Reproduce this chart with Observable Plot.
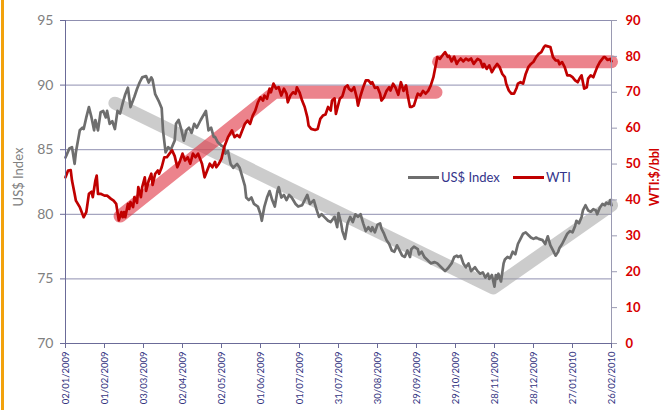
<!DOCTYPE html>
<html><head><meta charset="utf-8">
<script src="https://cdn.jsdelivr.net/npm/d3@7"></script>
<script src="https://cdn.jsdelivr.net/npm/@observablehq/plot@0.6"></script>
<style>
body{margin:0;background:#fff;}
#wrap{position:relative;width:664px;height:410px;overflow:hidden;font-family:Lato,"Open Sans",sans-serif;}
#wrap svg{position:absolute;left:0;top:0;}
.abs{position:absolute;white-space:nowrap;}
#bar{left:1px;top:0;width:3px;height:410px;background:#f2a20c;}
.sw{height:3px;width:31px;}
.lt{font-size:13px;color:#34348a;line-height:14px;}
.ylab{transform:translate(-50%,-50%) rotate(-90deg);line-height:14px;}
</style></head>
<body><div id="wrap">
<div class="abs" id="bar"></div>
</div>
<script>
const usdDates = ["2009-01-02","2009-01-05","2009-01-07","2009-01-09","2009-01-10","2009-01-13","2009-01-15","2009-01-16","2009-01-18","2009-01-20","2009-01-22","2009-01-24","2009-01-25","2009-01-27","2009-01-29","2009-01-31","2009-02-02","2009-02-03","2009-02-05","2009-02-07","2009-02-09","2009-02-11","2009-02-13","2009-02-15","2009-02-17","2009-02-19","2009-02-21","2009-02-24","2009-02-26","2009-02-28","2009-03-02","2009-03-05","2009-03-07","2009-03-09","2009-03-10","2009-03-12","2009-03-15","2009-03-17","2009-03-18","2009-03-20","2009-03-22","2009-03-24","2009-03-27","2009-03-28","2009-03-30","2009-04-01","2009-04-03","2009-04-05","2009-04-07","2009-04-09","2009-04-11","2009-04-13","2009-04-16","2009-04-20","2009-04-22","2009-04-24","2009-04-26","2009-04-27","2009-04-29","2009-05-02","2009-05-04","2009-05-05","2009-05-07","2009-05-09","2009-05-11","2009-05-14","2009-05-16","2009-05-20","2009-05-21","2009-05-23","2009-05-25","2009-05-27","2009-05-30","2009-06-01","2009-06-02","2009-06-04","2009-06-06","2009-06-08","2009-06-10","2009-06-12","2009-06-14","2009-06-15","2009-06-17","2009-06-19","2009-06-21","2009-06-23","2009-06-25","2009-06-28","2009-06-30","2009-07-03","2009-07-05","2009-07-07","2009-07-09","2009-07-12","2009-07-14","2009-07-16","2009-07-18","2009-07-20","2009-07-23","2009-07-25","2009-07-28","2009-07-30","2009-07-31","2009-08-02","2009-08-03","2009-08-05","2009-08-07","2009-08-09","2009-08-11","2009-08-13","2009-08-15","2009-08-17","2009-08-19","2009-08-21","2009-08-23","2009-08-25","2009-08-26","2009-08-28","2009-08-30","2009-09-01","2009-09-02","2009-09-04","2009-09-06","2009-09-08","2009-09-10","2009-09-12","2009-09-14","2009-09-16","2009-09-18","2009-09-20","2009-09-22","2009-09-24","2009-09-25","2009-09-27","2009-09-30","2009-10-01","2009-10-03","2009-10-05","2009-10-08","2009-10-10","2009-10-13","2009-10-15","2009-10-18","2009-10-21","2009-10-23","2009-10-26","2009-10-28","2009-10-30","2009-10-31","2009-11-02","2009-11-04","2009-11-06","2009-11-08","2009-11-10","2009-11-13","2009-11-15","2009-11-17","2009-11-19","2009-11-21","2009-11-23","2009-11-24","2009-11-26","2009-11-28","2009-11-29","2009-11-30","2009-12-01","2009-12-03","2009-12-05","2009-12-06","2009-12-08","2009-12-10","2009-12-12","2009-12-14","2009-12-16","2009-12-18","2009-12-20","2009-12-22","2009-12-24","2009-12-26","2009-12-28","2009-12-30","2010-01-01","2010-01-04","2010-01-06","2010-01-08","2010-01-10","2010-01-12","2010-01-14","2010-01-16","2010-01-17","2010-01-19","2010-01-21","2010-01-23","2010-01-25","2010-01-27","2010-01-29","2010-01-30","2010-02-01","2010-02-03","2010-02-04","2010-02-06","2010-02-08","2010-02-10","2010-02-12","2010-02-14","2010-02-15","2010-02-17","2010-02-19","2010-02-21","2010-02-22","2010-02-24","2010-02-25","2010-02-26"];
const usdValues = [84.4,85.1,85.2,83.9,84.8,86.5,86.7,86.6,87.5,88.3,87.5,86.5,87.3,86.5,87.9,88.0,87.5,88.0,87.0,87.2,86.6,88.0,87.8,88.6,89.3,89.8,88.3,89.1,89.7,90.2,90.6,90.7,90.2,90.6,90.4,89.3,88.7,88.2,86.5,84.8,85.2,85.0,85.7,87.0,87.3,86.6,85.7,86.5,86.7,86.3,87.0,86.7,87.3,88.0,86.5,86.7,86.0,86.0,85.6,85.3,85.2,84.7,84.9,83.9,83.6,83.9,83.6,82.2,81.3,81.1,81.3,80.8,80.6,80.0,79.5,80.6,81.3,81.8,81.1,80.6,81.8,82.1,81.3,81.5,81.1,81.5,81.3,80.8,80.6,80.7,81.1,81.5,80.8,81.1,80.4,79.8,80.0,79.8,79.5,79.4,79.8,79.0,80.1,79.3,78.7,78.1,79.3,79.8,79.4,80.0,79.8,80.0,79.3,78.7,79.0,78.7,79.0,78.6,79.2,79.3,78.9,78.5,78.0,77.7,77.2,77.1,77.6,77.2,76.8,76.7,77.2,76.7,77.3,77.5,77.3,76.9,77.1,76.7,76.4,76.2,76.3,76.2,75.9,75.6,75.8,76.2,76.7,76.8,76.7,76.8,76.2,75.9,76.2,75.6,75.9,75.6,75.4,75.5,75.1,75.4,75.0,75.3,74.4,75.3,75.0,75.4,74.8,76.2,76.5,76.7,76.6,77.1,76.9,77.7,78.1,78.5,78.6,78.4,78.2,78.1,78.2,78.1,78.0,77.7,78.3,77.6,77.2,76.8,77.1,77.4,77.7,78.1,78.5,78.7,78.6,79.1,79.5,79.3,79.8,80.3,80.7,80.3,80.2,80.4,80.3,80.0,80.5,80.8,80.7,80.9,80.8,81.1,80.7];

const wtiDates = ["2009-01-02","2009-01-04","2009-01-06","2009-01-07","2009-01-09","2009-01-10","2009-01-13","2009-01-15","2009-01-16","2009-01-18","2009-01-20","2009-01-22","2009-01-23","2009-01-25","2009-01-26","2009-01-27","2009-01-29","2009-02-01","2009-02-03","2009-02-06","2009-02-08","2009-02-10","2009-02-11","2009-02-12","2009-02-14","2009-02-15","2009-02-16","2009-02-17","2009-02-19","2009-02-20","2009-02-21","2009-02-23","2009-02-24","2009-02-26","2009-02-27","2009-03-01","2009-03-02","2009-03-04","2009-03-05","2009-03-07","2009-03-09","2009-03-10","2009-03-12","2009-03-14","2009-03-15","2009-03-17","2009-03-19","2009-03-21","2009-03-23","2009-03-25","2009-03-27","2009-03-29","2009-03-31","2009-04-02","2009-04-04","2009-04-06","2009-04-08","2009-04-10","2009-04-12","2009-04-14","2009-04-17","2009-04-19","2009-04-21","2009-04-23","2009-04-25","2009-04-27","2009-04-28","2009-04-30","2009-05-02","2009-05-04","2009-05-07","2009-05-10","2009-05-12","2009-05-14","2009-05-16","2009-05-18","2009-05-20","2009-05-22","2009-05-24","2009-05-26","2009-05-28","2009-05-30","2009-06-01","2009-06-03","2009-06-04","2009-06-06","2009-06-08","2009-06-09","2009-06-11","2009-06-13","2009-06-15","2009-06-17","2009-06-19","2009-06-21","2009-06-22","2009-06-24","2009-06-26","2009-06-28","2009-06-29","2009-07-01","2009-07-03","2009-07-05","2009-07-07","2009-07-08","2009-07-10","2009-07-13","2009-07-15","2009-07-17","2009-07-19","2009-07-21","2009-07-23","2009-07-25","2009-07-26","2009-07-28","2009-07-29","2009-08-01","2009-08-03","2009-08-05","2009-08-07","2009-08-08","2009-08-10","2009-08-12","2009-08-14","2009-08-15","2009-08-17","2009-08-19","2009-08-21","2009-08-23","2009-08-25","2009-08-26","2009-08-28","2009-08-30","2009-09-01","2009-09-02","2009-09-04","2009-09-06","2009-09-08","2009-09-09","2009-09-11","2009-09-13","2009-09-15","2009-09-17","2009-09-19","2009-09-21","2009-09-22","2009-09-24","2009-09-25","2009-09-27","2009-09-29","2009-09-30","2009-10-02","2009-10-04","2009-10-06","2009-10-08","2009-10-10","2009-10-12","2009-10-13","2009-10-14","2009-10-15","2009-10-17","2009-10-19","2009-10-21","2009-10-23","2009-10-24","2009-10-26","2009-10-28","2009-10-30","2009-10-31","2009-11-02","2009-11-04","2009-11-06","2009-11-08","2009-11-10","2009-11-12","2009-11-13","2009-11-15","2009-11-17","2009-11-19","2009-11-20","2009-11-22","2009-11-24","2009-11-26","2009-11-28","2009-11-30","2009-12-02","2009-12-04","2009-12-06","2009-12-07","2009-12-09","2009-12-11","2009-12-13","2009-12-15","2009-12-16","2009-12-18","2009-12-20","2009-12-22","2009-12-24","2009-12-26","2009-12-28","2009-12-30","2010-01-01","2010-01-03","2010-01-05","2010-01-06","2010-01-08","2010-01-10","2010-01-12","2010-01-14","2010-01-16","2010-01-17","2010-01-19","2010-01-21","2010-01-23","2010-01-25","2010-01-27","2010-01-29","2010-01-31","2010-02-02","2010-02-03","2010-02-05","2010-02-07","2010-02-08","2010-02-10","2010-02-12","2010-02-14","2010-02-15","2010-02-17","2010-02-20","2010-02-21","2010-02-23","2010-02-25","2010-02-26"];
const wtiValues = [46.3,48.2,48.3,45.4,41.7,39.8,38.0,36.1,35.2,36.6,41.7,42.3,40.8,45.4,46.8,41.7,41.7,41.2,41.2,40.3,39.8,38.9,36.6,34.3,36.6,35.2,36.6,35.2,38.9,37.5,39.4,38.0,40.8,39.2,43.6,40.8,43.6,46.3,42.5,45.4,47.3,44.2,47.3,48.2,47.3,49.1,51.9,51.9,52.9,53.8,52.2,49.1,50.8,52.9,51.0,51.9,50.1,52.9,51.9,52.9,50.1,46.3,48.2,50.1,49.1,50.6,49.1,50.1,51.5,54.7,57.5,59.4,57.5,58.1,57.5,59.4,61.2,62.1,61.2,63.5,64.9,67.2,68.6,67.7,69.1,68.2,71.0,70.0,72.4,71.0,71.4,69.1,71.0,69.6,67.2,69.1,70.0,69.6,71.4,70.0,67.7,65.9,63.1,60.7,59.8,59.5,59.8,62.6,63.5,63.8,65.9,64.9,67.7,68.3,64.0,68.2,68.9,71.4,71.9,71.0,70.4,71.4,68.6,66.3,69.1,71.4,73.3,73.3,72.4,72.8,71.2,71.4,69.6,67.7,68.6,70.4,71.4,70.5,72.4,71.2,69.3,72.8,70.4,71.9,69.6,65.9,65.9,66.3,68.6,69.6,69.1,70.4,69.6,70.4,71.9,74.2,76.1,77.9,79.8,79.3,80.3,81.2,79.9,80.2,78.6,79.9,77.9,78.6,79.4,78.6,79.4,78.9,79.4,77.9,78.4,79.3,78.9,77.0,77.9,76.5,77.5,75.6,76.9,77.9,77.0,75.1,74.2,72.4,70.5,69.6,69.6,71.2,72.4,72.8,72.4,75.1,77.0,77.9,78.5,79.8,80.7,81.2,82.6,83.0,82.8,82.6,79.8,78.9,78.8,77.8,78.4,77.0,74.7,74.7,74.2,73.3,72.8,74.2,74.7,71.0,71.4,73.8,74.7,74.2,76.1,77.0,78.4,79.8,79.8,79.0,79.3,78.6];

// hand-drawn trend highlights
const usdTrendDates = ["2009-02-09","2009-11-27","2010-02-26"];
const usdTrendValues = [88.6,74.3,80.7];
const wtiTrendUpDates = ["2009-02-13","2009-06-12","2009-10-14"];
const wtiTrendUpValues = [35.5,70,70];
const wtiTrendHighDates = ["2009-10-16","2010-02-26"];
const wtiTrendHighValues = [78.5,78.5];

const xTickDates = ["2009-01-02","2009-02-01","2009-03-03","2009-04-02","2009-05-02","2009-06-01","2009-07-01","2009-07-31","2009-08-30","2009-09-29","2009-10-29","2009-11-28","2009-12-28","2010-01-27","2010-02-26"];
const leftTicks = [70,75,80,85,90,95];
const rightTicks = [0,10,20,30,40,50,60,70,80,90];
const seriesNames = ["US$ Index","WTI"];
const leftTitle = "US$ Index";
const rightTitle = "WTI:$/bbl";

const parse = d3.utcParse("%Y-%m-%d");
const toLeft = v => 70 + v * 25 / 90;
const fromLeft = y => (y - 70) * 90 / 25;
const rows = (ds, vs, f = v => v) => ds.map((d, i) => ({date: parse(d), value: f(vs[i])}));

const usd = rows(usdDates, usdValues);
const wti = rows(wtiDates, wtiValues, toLeft);
const usdTrend = rows(usdTrendDates, usdTrendValues);
const wtiUp = rows(wtiTrendUpDates, wtiTrendUpValues, toLeft);
const wtiHigh = rows(wtiTrendHighDates, wtiTrendHighValues, toLeft);
const xTicks = xTickDates.map(parse);
const x0 = xTicks[0], x1 = xTicks[xTicks.length - 1];

const band = {x: "date", y: "value", strokeWidth: 13, strokeLinecap: "round", strokeLinejoin: "round"};
const axisCol = "#6b6b98";

const chart = Plot.plot({
  width: 664, height: 410,
  marginLeft: 65, marginRight: 53, marginTop: 20, marginBottom: 67,
  style: {fontFamily: "Lato, 'Open Sans', sans-serif", background: "transparent", overflow: "visible"},
  x: {type: "utc", domain: [x0, x1]},
  y: {domain: [70, 95]},
  marks: [
    Plot.ruleY(leftTicks.slice(1), {stroke: "#8f8fb0", strokeWidth: 1}),
    Plot.line(usdTrend, {...band, stroke: "#a3a3a3", strokeOpacity: 0.55}),
    Plot.line(wtiUp, {...band, stroke: "#e0303f", strokeOpacity: 0.6}),
    Plot.line(wtiHigh, {...band, stroke: "#e0303f", strokeOpacity: 0.6}),
    Plot.line(usd, {x: "date", y: "value", stroke: "#6e6e6e", strokeWidth: 2.7}),
    Plot.line(wti, {x: "date", y: "value", stroke: "#c00000", strokeWidth: 2.7}),
    Plot.ruleX([x0], {stroke: axisCol}),
    Plot.ruleX([x1], {stroke: "#9a9ab2"}),
    Plot.ruleY([70], {stroke: axisCol}),
    Plot.axisX({ticks: xTicks, tickFormat: d3.utcFormat("%d/%m/%Y"), tickRotate: -90, tickSize: 5, tickPadding: 3,
      fontSize: 9.5, fill: "#34347f", stroke: axisCol, label: null}),
    Plot.axisY({ticks: leftTicks, tickSize: 5, tickPadding: 7, fontSize: 14, fill: "#808080", stroke: axisCol, label: null}),
    Plot.axisY({anchor: "right", ticks: rightTicks.map(toLeft), tickFormat: d => String(Math.round(fromLeft(d))),
      tickSize: 5, tickPadding: 9, fontSize: 13, fontWeight: "bold", fill: "#d80000", stroke: "#9a9ab2", label: null})
  ]
});

const wrap = document.getElementById("wrap");
wrap.appendChild(chart);

function addDiv(cls, css, text) {
  const el = document.createElement("div");
  el.className = "abs " + cls;
  Object.assign(el.style, css);
  if (text) el.textContent = text;
  wrap.appendChild(el);
  return el;
}
// axis titles
addDiv("ylab", {left: "18px", top: "177px", fontSize: "13px", color: "#808080"}, leftTitle);
addDiv("ylab", {left: "655px", top: "177px", fontSize: "12.5px", fontWeight: "bold", color: "#d00000"}, rightTitle);
// legend
addDiv("sw", {left: "408px", top: "176px", background: "#6e6e6e"});
addDiv("lt", {left: "441px", top: "170px"}, seriesNames[0]);
addDiv("sw", {left: "513px", top: "176px", background: "#c00000"});
addDiv("lt", {left: "546px", top: "170px"}, seriesNames[1]);
</script>
</body></html>
